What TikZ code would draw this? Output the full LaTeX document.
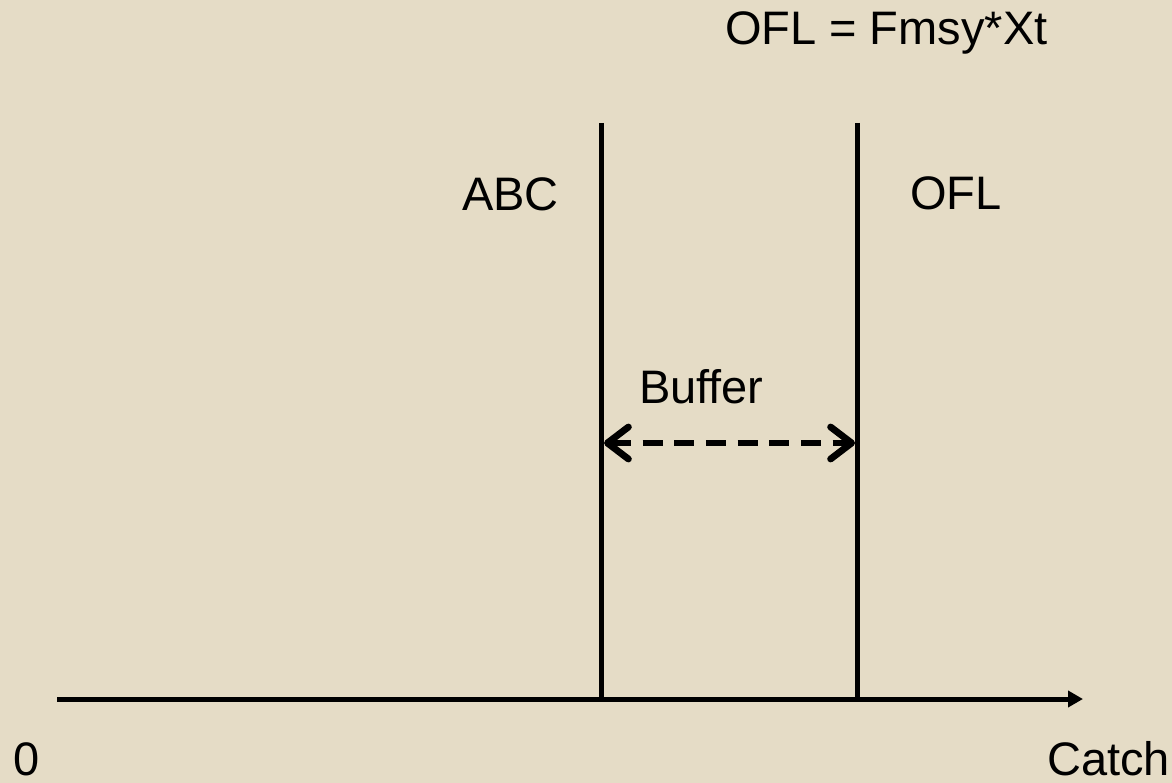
\documentclass[tikz,border=0pt]{standalone}
\usepackage{fontspec}
\setmainfont{Liberation Sans}
\usetikzlibrary{arrows.meta}
\definecolor{paper}{RGB}{229,220,198}
\tikzset{
  label/.style={inner sep=0pt, outer sep=0pt, font=\fontsize{47}{52}\selectfont},
  rule/.style={line width=4.8pt, black},
  axisline/.style={line width=5pt, black, -{Triangle[length=15pt,width=16pt]}},
  buffer/.style={line width=6.8pt, black, dash pattern=on 20pt off 11.7pt,
    {Straight Barb[length=21pt,width=32pt,line cap=round,line join=round]}-{Straight Barb[length=21pt,width=32pt,line cap=round,line join=round]}}
}
\begin{document}
\begin{tikzpicture}[x=1pt,y=-1pt]
  \fill[paper] (0,0) rectangle (1172,783);
  \useasboundingbox (0,0) rectangle (1172,783);

  % catch axis
  \coordinate (origin) at (57,699);
  \coordinate (axisend) at (1083,699);
  \draw[axisline] (origin) -- (axisend);

  % ABC and OFL levels
  \coordinate (abctop) at (601.7,123);
  \coordinate (abcbot) at (601.7,701);
  \coordinate (ofltop) at (857.7,123);
  \coordinate (oflbot) at (857.7,701);
  \draw[rule] (abctop) -- (abcbot);
  \draw[rule] (ofltop) -- (oflbot);

  % buffer between ABC and OFL
  \coordinate (bufL) at (604,443);
  \coordinate (bufR) at (855,443);
  \draw[buffer] (bufL) -- (bufR);

  % labels
  \node[label, anchor=base west] (ofldef) at (725,45) {OFL = Fmsy*Xt};
  \node[label, anchor=base west] (abc) at (462,211) {ABC};
  \node[label, anchor=base west] (ofl) at (910,210) {OFL};
  \node[label, anchor=base west] (buf) at (639,403) {Buffer};
  \node[label, text depth=0pt, anchor=base west] (zero) at (13,775) {0};
  \node[label, text depth=0pt, anchor=base east] (catch) at (1170,775) {Catch};
\end{tikzpicture}
\end{document}
